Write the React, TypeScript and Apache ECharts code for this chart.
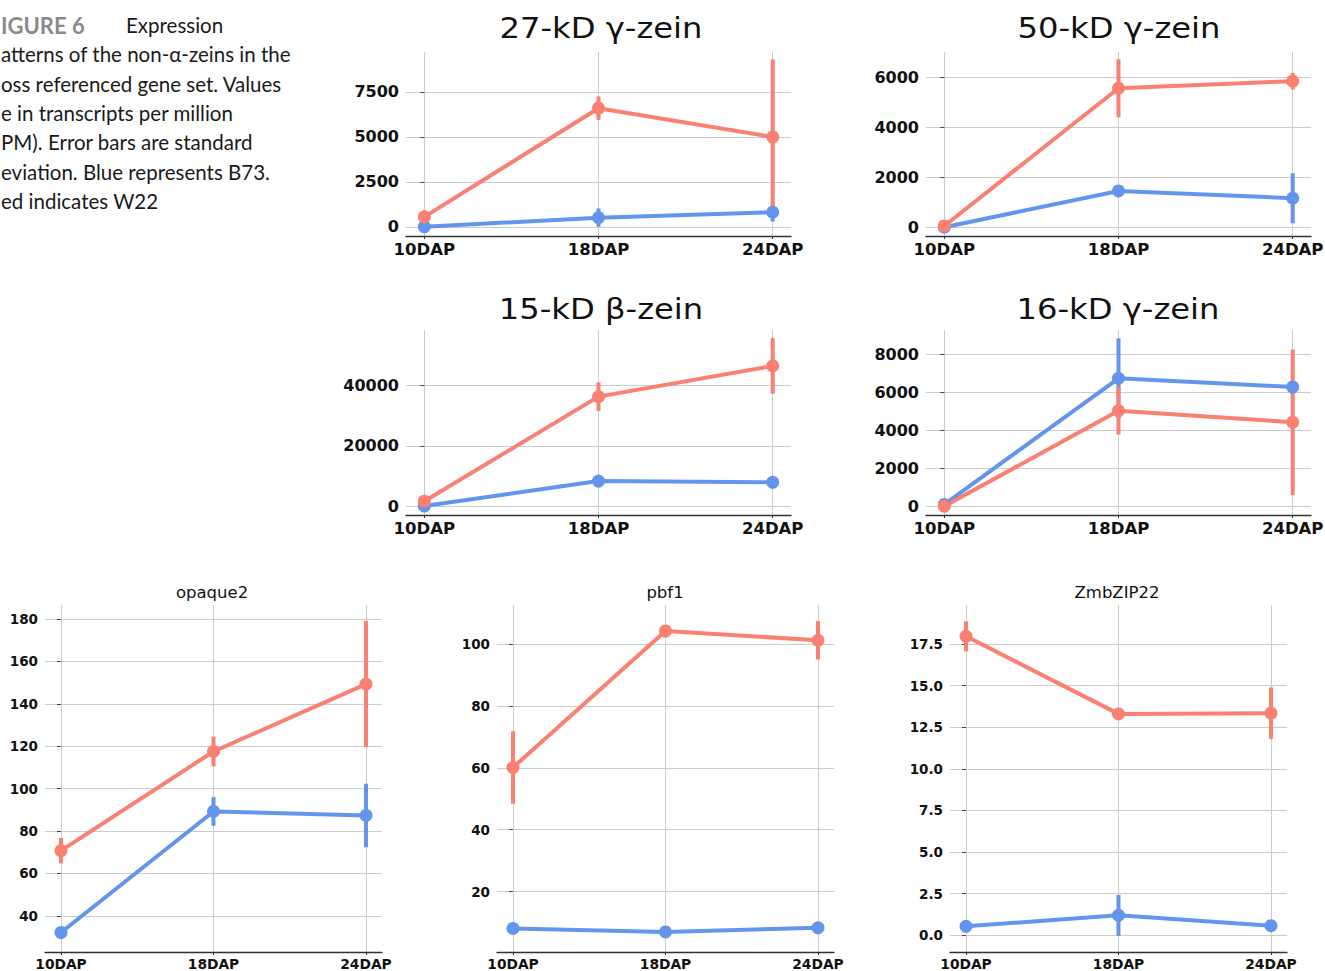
import React, { useEffect, useRef } from 'react';
import * as echarts from 'echarts';

// ---------- data ----------
const categories = ['10DAP', '18DAP', '24DAP'];

// 27-kD γ-zein
const zein27W22Mean = [560, 6600, 5000];
const zein27W22Sd = [370, 650, 4300];
const zein27B73Mean = [10, 520, 820];
const zein27B73Sd = [80, 510, 520];
const zein27Ticks = [0, 2500, 5000, 7500];

// 50-kD γ-zein
const zein50W22Mean = [70, 5580, 5860];
const zein50W22Sd = [60, 1160, 330];
const zein50B73Mean = [20, 1470, 1180];
const zein50B73Sd = [30, 120, 1000];
const zein50Ticks = [0, 2000, 4000, 6000];

// 15-kD β-zein
const zein15W22Mean = [1800, 36200, 46300];
const zein15W22Sd = [600, 4700, 9150];
const zein15B73Mean = [200, 8450, 8030];
const zein15B73Sd = [150, 600, 500];
const zein15Ticks = [0, 20000, 40000];

// 16-kD γ-zein
const zein16W22Mean = [20, 5050, 4450];
const zein16W22Sd = [30, 1250, 3830];
const zein16B73Mean = [120, 6760, 6300];
const zein16B73Sd = [60, 2100, 250];
const zein16Ticks = [0, 2000, 4000, 6000, 8000];

// opaque2
const o2W22Mean = [70.7, 117.5, 149.3];
const o2W22Sd = [6, 7, 29.8];
const o2B73Mean = [32.1, 89.2, 87.3];
const o2B73Sd = [1, 6.8, 15];
const o2Ticks = [40, 60, 80, 100, 120, 140, 160, 180];

// pbf1
const pbf1W22Mean = [60.1, 104.2, 101.2];
const pbf1W22Sd = [11.7, 1, 6.2];
const pbf1B73Mean = [8.1, 7.0, 8.3];
const pbf1B73Sd = [0.5, 0.5, 0.5];
const pbf1Ticks = [20, 40, 60, 80, 100];

// ZmbZIP22
const bzipW22Mean = [17.96, 13.3, 13.34];
const bzipW22Sd = [0.9, 0.2, 1.55];
const bzipB73Mean = [0.54, 1.2, 0.58];
const bzipB73Sd = [0.1, 1.23, 0.1];
const bzipTicks = [0, 2.5, 5, 7.5, 10, 12.5, 15, 17.5];

const captionLines = [
  'atterns of the non-α-zeins in the',
  'oss referenced gene set. Values',
  'e in transcripts per million',
  'PM). Error bars are standard',
  'eviation. Blue represents B73.',
  'ed indicates W22',
];

// ---------- layout / style ----------
const RED = '#FA8072';
const BLUE = '#6495ED';
const GRID_COLOR = '#cccccc';
const FONT = 'DejaVu Sans';

type Panel = {
  title: string;
  w22: number[]; w22Sd: number[];
  b73: number[]; b73Sd: number[];
  ticks: number[];
  yMin: number; yMax: number;
  rect: [number, number, number, number];
  big: boolean;
  decimals: number;
  titleX: number; titleY: number;
};

const panels: Panel[] = [
  { title: '27-kD γ-zein', w22: zein27W22Mean, w22Sd: zein27W22Sd, b73: zein27B73Mean, b73Sd: zein27B73Sd,
    ticks: zein27Ticks, yMin: -500, yMax: 9722, rect: [406, 52, 385, 184], big: true, decimals: 0, titleX: 601, titleY: 28 },
  { title: '50-kD γ-zein', w22: zein50W22Mean, w22Sd: zein50W22Sd, b73: zein50B73Mean, b73Sd: zein50B73Sd,
    ticks: zein50Ticks, yMin: -332, yMax: 7028, rect: [926, 52, 385, 184], big: true, decimals: 0, titleX: 1119, titleY: 28 },
  { title: '15-kD β-zein', w22: zein15W22Mean, w22Sd: zein15W22Sd, b73: zein15B73Mean, b73Sd: zein15B73Sd,
    ticks: zein15Ticks, yMin: -2730, yMax: 58125, rect: [406, 330, 385, 185], big: true, decimals: 0, titleX: 601, titleY: 309 },
  { title: '16-kD γ-zein', w22: zein16W22Mean, w22Sd: zein16W22Sd, b73: zein16B73Mean, b73Sd: zein16B73Sd,
    ticks: zein16Ticks, yMin: -437, yMax: 9300, rect: [926, 330, 385, 185], big: true, decimals: 0, titleX: 1118, titleY: 309 },
  { title: 'opaque2', w22: o2W22Mean, w22Sd: o2W22Sd, b73: o2B73Mean, b73Sd: o2B73Sd,
    ticks: o2Ticks, yMin: 22.9, yMax: 186.6, rect: [45, 605, 337, 347], big: false, decimals: 0, titleX: 212, titleY: 592 },
  { title: 'pbf1', w22: pbf1W22Mean, w22Sd: pbf1W22Sd, b73: pbf1B73Mean, b73Sd: pbf1B73Sd,
    ticks: pbf1Ticks, yMin: 0.5, yMax: 112.6, rect: [497, 605, 337, 347], big: false, decimals: 0, titleX: 665, titleY: 592 },
  { title: 'ZmbZIP22', w22: bzipW22Mean, w22Sd: bzipW22Sd, b73: bzipB73Mean, b73Sd: bzipB73Sd,
    ticks: bzipTicks, yMin: -1.0, yMax: 19.84, rect: [950, 605, 337, 347], big: false, decimals: 1, titleX: 1117, titleY: 592 },
];

const X_MIN = -0.105;
const X_MAX = 2.105;
const catIdx = categories.map((_, i) => i);

function buildOption() {
  const grid: any[] = [];
  const xAxis: any[] = [];
  const yAxis: any[] = [];
  const series: any[] = [];
  const graphic: any[] = [];

  panels.forEach((p, i) => {
    const labelSize = p.big ? 16 : 13.5;
    const xLabelSize = p.big ? 16.5 : 13.8;
    grid.push({
      left: p.rect[0], top: p.rect[1], width: p.rect[2], height: p.rect[3],
      containLabel: false, outerBoundsMode: 'none',
    });
    xAxis.push({
      type: 'value', gridIndex: i, min: X_MIN, max: X_MAX,
      axisLine: { show: true, onZero: false, lineStyle: { color: '#333333', width: 1.3 } },
      axisTick: { show: true, customValues: catIdx, length: 3, lineStyle: { color: '#333333', width: 1 } },
      axisLabel: {
        show: true, customValues: catIdx, margin: 5, hideOverlap: false,
        formatter: (v: number) => categories[Math.round(v)] ?? '',
        fontFamily: FONT, fontWeight: 'bold', fontSize: xLabelSize, color: '#111111',
      },
      splitLine: { show: true, lineStyle: { color: GRID_COLOR, width: 1 } },
    });
    yAxis.push({
      type: 'value', gridIndex: i, min: p.yMin, max: p.yMax,
      axisLine: { show: false },
      axisTick: { show: true, customValues: p.ticks, length: 4, lineStyle: { color: '#444444', width: 1 } },
      axisLabel: {
        show: true, customValues: p.ticks, margin: 7,
        formatter: (v: number) => v.toFixed(p.decimals),
        fontFamily: FONT, fontWeight: 'bold', fontSize: labelSize, color: '#111111',
      },
      splitLine: { show: true, lineStyle: { color: GRID_COLOR, width: 1 } },
    });

    const errSeries = (mean: number[], sd: number[], color: string, name: string) => ({
      type: 'custom', name, xAxisIndex: i, yAxisIndex: i, z: 2, silent: true,
      data: mean.map((m, k) => [k, m - sd[k], m + sd[k]]),
      encode: { x: 0, y: [1, 2] },
      renderItem: (_params: any, api: any) => {
        const x = api.value(0);
        const a = api.coord([x, api.value(1)]);
        const b = api.coord([x, api.value(2)]);
        return {
          type: 'line',
          shape: { x1: a[0], y1: a[1], x2: b[0], y2: b[1] },
          style: { stroke: color, lineWidth: 4 },
        };
      },
    });
    const lineSeries = (mean: number[], color: string, name: string) => ({
      type: 'line', name, xAxisIndex: i, yAxisIndex: i, z: 2, silent: true,
      data: mean.map((m, k) => [k, m]),
      symbol: 'none', lineStyle: { color, width: 4 }, itemStyle: { color },
    });
    const dotSeries = (mean: number[], color: string, name: string, z: number) => ({
      type: 'scatter', name, xAxisIndex: i, yAxisIndex: i, z, silent: true,
      data: mean.map((m, k) => [k, m]),
      symbol: 'circle', symbolSize: 13, itemStyle: { color, opacity: 1 },
    });

    series.push(errSeries(p.b73, p.b73Sd, BLUE, 'B73'));
    series.push(lineSeries(p.b73, BLUE, 'B73'));
    series.push(errSeries(p.w22, p.w22Sd, RED, 'W22'));
    series.push(lineSeries(p.w22, RED, 'W22'));
    series.push(dotSeries(p.b73, BLUE, 'B73', 3));
    series.push(dotSeries(p.w22, RED, 'W22', 4));

    graphic.push({
      type: 'text', x: p.titleX, y: p.titleY,
      scaleX: p.big ? 1.15 : 1,
      style: {
        text: p.title, fill: '#111111', fontFamily: FONT,
        fontSize: p.big ? 28 : 16.5, fontWeight: 'normal',
        align: 'center', verticalAlign: 'middle',
      },
    });
  });

  // caption
  graphic.push({
    type: 'text', x: 1, y: 25,
    style: { text: 'IGURE 6', fill: '#8a8a8a', fontFamily: 'Lato', fontSize: 22, fontWeight: 'bold',
      align: 'left', verticalAlign: 'middle' },
  });
  graphic.push({
    type: 'text', x: 126, y: 25,
    style: { text: 'Expression', fill: '#1a1a1a', fontFamily: 'Lato', fontSize: 20.5,
      align: 'left', verticalAlign: 'middle' },
  });
  captionLines.forEach((t, k) => {
    graphic.push({
      type: 'text', x: 1, y: 25 + 29.3 * (k + 1),
      style: { text: t, fill: '#1a1a1a', fontFamily: 'Lato', fontSize: 20.5,
        align: 'left', verticalAlign: 'middle' },
    });
  });

  return {
    animation: false,
    backgroundColor: '#ffffff',
    grid, xAxis, yAxis, series, graphic,
    tooltip: { show: false },
  };
}

export default function App() {
  const ref = useRef<HTMLDivElement>(null);
  useEffect(() => {
    document.body.style.margin = '0';
    document.body.style.padding = '0';
    document.body.style.overflow = 'hidden';
    if (!ref.current) return;
    const chart = echarts.init(ref.current, undefined, { renderer: 'svg' });
    chart.setOption(buildOption() as any);
    return () => chart.dispose();
  }, []);
  return (
    <div
      ref={ref}
      style={{ position: 'relative', width: 1325, height: 971, background: '#fff' }}
    />
  );
}
